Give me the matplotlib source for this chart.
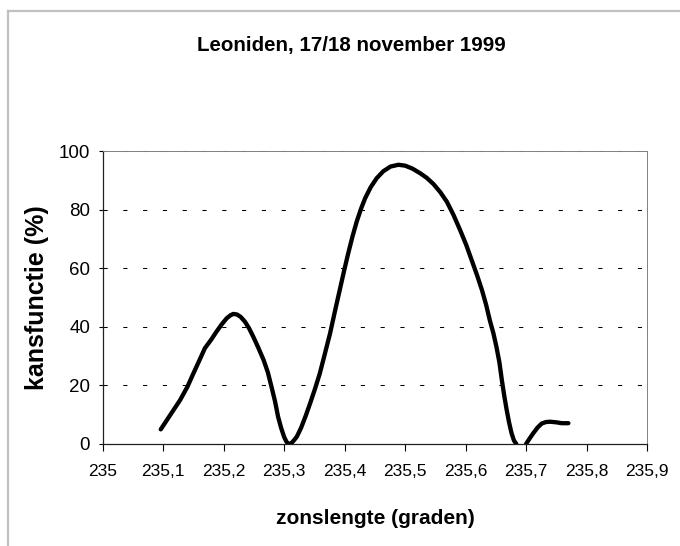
import matplotlib
matplotlib.use("Agg")
import matplotlib.pyplot as plt
from matplotlib.lines import Line2D

# values (zonslengte in graden, kansfunctie in %)
zon = [235.096, 235.112, 235.128, 235.140, 235.150, 235.160, 235.169, 235.180,
       235.188, 235.197, 235.205, 235.211, 235.216, 235.222, 235.228, 235.235,
       235.242, 235.249, 235.257, 235.266, 235.273, 235.279, 235.285, 235.290,
       235.295, 235.300, 235.304, 235.308, 235.312, 235.316, 235.321, 235.328,
       235.336, 235.343, 235.351, 235.359, 235.367, 235.376, 235.384, 235.392,
       235.399, 235.406, 235.413, 235.420, 235.427, 235.434, 235.443, 235.453,
       235.464, 235.476, 235.489, 235.500, 235.512, 235.525, 235.536, 235.547,
       235.558, 235.569, 235.580, 235.591, 235.601, 235.610, 235.619, 235.627,
       235.634, 235.640, 235.646, 235.651, 235.656, 235.660, 235.664, 235.668,
       235.672, 235.676, 235.680, 235.684]
kans = [5.0, 10.0, 15.0, 19.5, 24.1, 28.6, 32.7, 35.8,
        38.3, 40.9, 42.9, 43.9, 44.4, 44.2, 43.4, 41.8,
        39.5, 36.6, 33.0, 28.7, 24.5, 19.6, 14.5, 9.3,
        5.5, 2.4, 0.7, 0.0, 0.3, 1.2, 2.5, 5.5,
        9.8, 13.9, 18.8, 24.1, 30.5, 37.8, 45.3, 52.6,
        59.0, 65.1, 70.8, 75.9, 80.2, 83.9, 87.6, 90.7,
        93.1, 94.7, 95.3, 95.0, 94.0, 92.4, 90.8, 88.7,
        86.0, 82.7, 78.2, 73.0, 68.0, 62.8, 57.6, 52.6,
        47.5, 42.3, 37.8, 33.2, 27.8, 21.8, 16.4, 11.6,
        7.3, 3.7, 1.2, 0.0]

# laatste stukje na de nul
zon_staart = [235.700, 235.706, 235.712, 235.719, 235.726, 235.733, 235.740, 235.750, 235.759, 235.770]
kans_staart = [0.0, 1.9, 3.7, 5.6, 7.0, 7.5, 7.6, 7.4, 7.1, 7.1]

xticks = [235.0, 235.1, 235.2, 235.3, 235.4, 235.5, 235.6, 235.7, 235.8, 235.9]
xlabels = ["235", "235,1", "235,2", "235,3", "235,4", "235,5", "235,6", "235,7", "235,8", "235,9"]
yticks = [0, 20, 40, 60, 80, 100]

font = ["Liberation Sans", "DejaVu Sans"]

W, H = 680, 546
fig = plt.figure(figsize=(W / 100, H / 100), dpi=100)
ax = fig.add_axes([102.7 / W, 1 - 444 / H, (647 - 102.7) / W, (444 - 151) / H])

# chart frame (grey, cut off at right/bottom)
fig.add_artist(Line2D([7.5 / W, 7.5 / W], [0, 1 - 11 / H], transform=fig.transFigure,
                      color="#c0c0c0", lw=1.6))
fig.add_artist(Line2D([7.5 / W, 1], [1 - 11 / H, 1 - 11 / H], transform=fig.transFigure,
                      color="#c0c0c0", lw=1.6))

for y in yticks[1:]:
    ax.axhline(y, color="black", lw=0.75, linestyle=(0, (4, 15)), zorder=1)

ax.plot(zon, kans, color="black", lw=3.1, solid_capstyle="round", solid_joinstyle="round", zorder=3)
ax.plot(zon_staart, kans_staart, color="black", lw=3.1, solid_capstyle="round",
        solid_joinstyle="round", zorder=3)

ax.set_xlim(235.0, 235.9)
ax.set_ylim(0, 100)
ax.set_xticks(xticks)
ax.set_xticklabels(xlabels, family=font, fontsize=12.5)
ax.set_yticks(yticks)
ax.set_yticklabels([str(v) for v in yticks], family=font, fontsize=13.5)
ax.tick_params(axis="x", direction="out", length=5, width=0.8, pad=9.5)
ax.tick_params(axis="y", direction="out", length=3, width=0.8, pad=6)

ax.spines["left"].set_color("#202020")
ax.spines["bottom"].set_color("#202020")
ax.spines["left"].set_linewidth(0.9)
ax.spines["bottom"].set_linewidth(0.9)
ax.spines["top"].set_color("#808080")
ax.spines["right"].set_color("#808080")
ax.spines["top"].set_linewidth(0.7)
ax.spines["right"].set_linewidth(0.7)

fig.text(351 / W, 1 - 46 / H, "Leoniden, 17/18 november 1999", family=font,
         fontsize=14.8, fontweight="bold", ha="center", va="center")
fig.text(375 / W, 1 - 518 / H, "zonslengte (graden)", family=font,
         fontsize=15, fontweight="bold", ha="center", va="center")
fig.text(37 / W, 1 - 298 / H, "kansfunctie (%)", family=font, rotation=90,
         fontsize=18, fontweight="bold", ha="center", va="center")

fig.savefig("out.png", dpi=100)
